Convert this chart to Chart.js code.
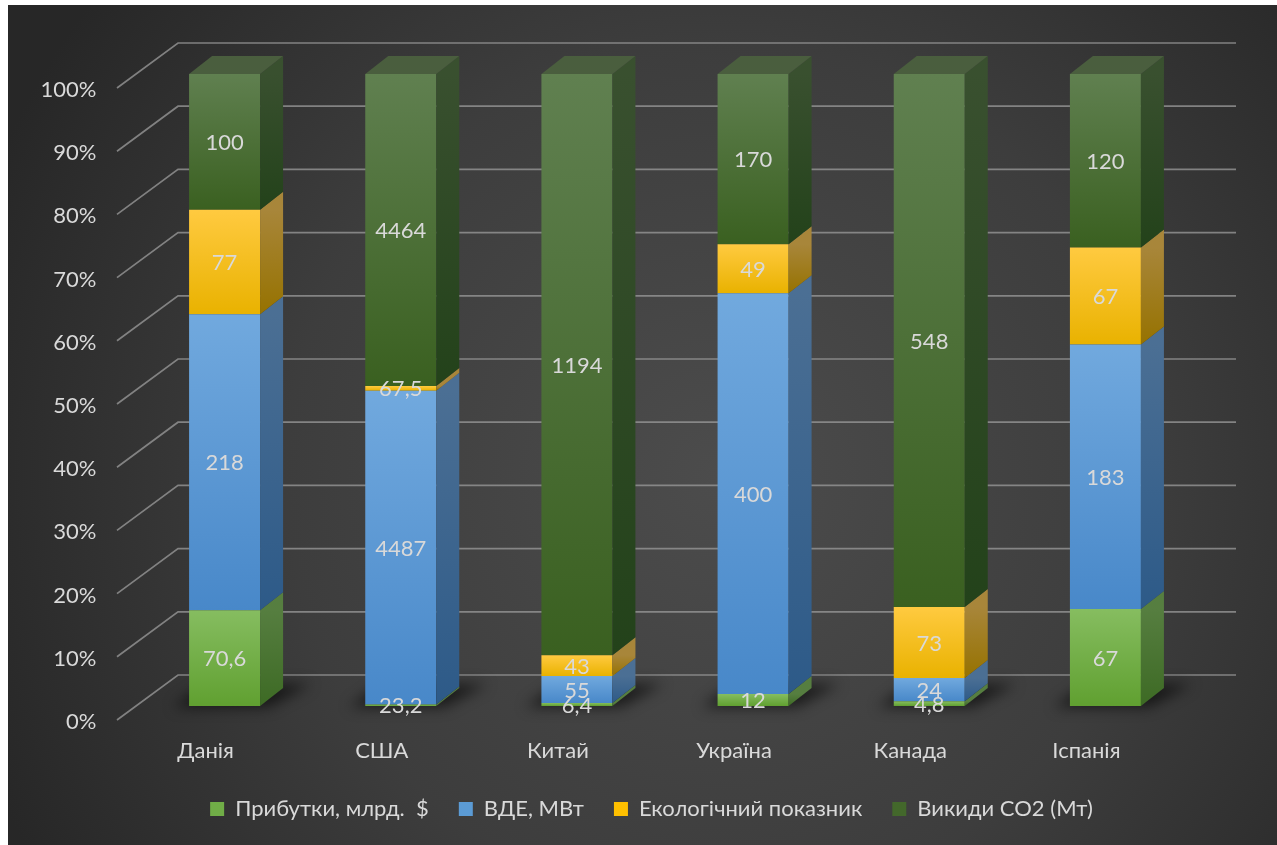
<!DOCTYPE html>
<html>
<head>
<meta charset="utf-8">
<script src="https://cdn.jsdelivr.net/npm/chart.js@4.4.1/dist/chart.umd.min.js"></script>
<style>
  html, body { margin: 0; padding: 0; background: #ffffff; }
  #wrap { position: absolute; left: 8px; top: 5px; width: 1269px; height: 840px; }
</style>
</head>
<body>
<div id="wrap"><canvas id="chart"></canvas></div>
<script>
// ---- data ----
const countries = ['Данія', 'США', 'Китай', 'Україна', 'Канада', 'Іспанія'];
const profit = [70.6, 23.2, 6.4, 12, 4.8, 67];      // Прибутки, млрд. $
const renewables = [218, 4487, 55, 400, 24, 183];    // ВДЕ, МВт
const ecoIndex = [77, 67.5, 43, 49, 73, 67];         // Екологічний показник
const emissions = [100, 4464, 1194, 170, 548, 120];  // Викиди СО2 (Мт)
const seriesNames = ['Прибутки, млрд.  $', 'ВДЕ, МВт', 'Екологічний показник', 'Викиди СО2 (Мт)'];
const yTickValues = [0, 10, 20, 30, 40, 50, 60, 70, 80, 90, 100];

const rawSeries = [profit, renewables, ecoIndex, emissions];
const totals = countries.map((_, j) => rawSeries.reduce((s, arr) => s + arr[j], 0));
// 100% stacking: each segment is its share of the country's total
const shares = rawSeries.map(arr => arr.map((v, j) => v / totals[j] * 100));

// ---- styling ----
const FONT = 'Lato, "Noto Sans", sans-serif';
const TEXT = '#d9d9d9';
const DEPTH_X = 23, DEPTH_Y = -18;   // oblique offset of the bar's side/top faces
const palette = [
  { top: '#86bd60', bottom: '#60a030', sideTop: '#567e40', sideBottom: '#3d6a24', solid: '#70ad47' },
  { top: '#71a9de', bottom: '#4888c9', sideTop: '#4b6f94', sideBottom: '#2d5a88', solid: '#5b9bd5' },
  { top: '#ffca40', bottom: '#e9b200', sideTop: '#a8863a', sideBottom: '#967200', solid: '#ffc000' },
  { top: '#608050', bottom: '#3a6020', sideTop: '#39502f', sideBottom: '#23421a', solid: '#43682b' }
];

function segmentPixels(chart, di, j) {
  const ys = chart.scales.y;
  let lo = 0;
  for (let k = 0; k < di; k++) lo += shares[k][j];
  const hi = lo + shares[di][j];
  return { yTop: ys.getPixelForValue(hi), yBot: ys.getPixelForValue(lo) };
}

function frontFill(context, di) {
  const chart = context.chart;
  const p = palette[di];
  if (!chart.chartArea || context.dataIndex === undefined || !chart.scales.y) return p.solid;
  const { yTop, yBot } = segmentPixels(chart, di, context.dataIndex);
  const g = chart.ctx.createLinearGradient(0, yTop, 0, Math.max(yBot, yTop + 1));
  g.addColorStop(0, p.top);
  g.addColorStop(1, p.bottom);
  return g;
}

const fmt = v => String(v).replace('.', ',');

// ---- plugins ----
const backdrop = {
  id: 'backdrop',
  beforeDraw(chart) {
    const { ctx, width, height } = chart;
    ctx.save();
    const g = ctx.createRadialGradient(width * 0.56, height * 0.56, 0, width * 0.56, height * 0.56, width * 0.62);
    g.addColorStop(0, '#4c4c4c');
    g.addColorStop(0.55, '#3d3d3d');
    g.addColorStop(1, '#272727');
    ctx.fillStyle = g;
    ctx.fillRect(0, 0, width, height);
    ctx.restore();
  }
};

const walls = {
  id: 'walls',
  beforeDatasetsDraw(chart) {
    const { ctx, chartArea: a, scales: { y } } = chart;
    ctx.save();
    ctx.strokeStyle = 'rgba(150,150,150,0.8)';
    ctx.lineWidth = 1.7;
    y.ticks.forEach(t => {
      const py = y.getPixelForValue(t.value);
      ctx.beginPath();
      ctx.moveTo(a.left - 19.5, py + 14);
      ctx.lineTo(a.left + 41.5, py - 31);
      ctx.lineTo(a.right + 42.5, py - 31);
      ctx.stroke();
    });
    // floor shadows under each column
    const meta = chart.getDatasetMeta(0);
    meta.data.forEach(el => {
      const { x, base, width } = el.getProps(['x', 'base', 'width'], true);
      const L = x - width / 2, R = x + width / 2;
      ctx.save();
      ctx.filter = 'blur(7px)';
      ctx.fillStyle = 'rgba(0,0,0,0.6)';
      ctx.beginPath();
      ctx.moveTo(L - 16, base + 1);
      ctx.lineTo(R + 8, base + 1);
      ctx.lineTo(R + DEPTH_X + 28, base + DEPTH_Y - 4);
      ctx.lineTo(L + DEPTH_X - 6, base + DEPTH_Y - 4);
      ctx.closePath();
      ctx.fill();
      ctx.restore();
    });
    ctx.restore();
  }
};

const columns3d = {
  id: 'columns3d',
  afterDatasetsDraw(chart) {
    const ctx = chart.ctx;
    const n = chart.data.datasets.length;
    ctx.save();
    for (let di = 0; di < n; di++) {
      const p = palette[di];
      chart.getDatasetMeta(di).data.forEach((el, j) => {
        const { x, y, base, width } = el.getProps(['x', 'y', 'base', 'width'], true);
        const R = x + width / 2, L = x - width / 2;
        const top = Math.min(y, base), bot = Math.max(y, base);
        if (bot - top < 0.01) return;
        // side face
        const gs = ctx.createLinearGradient(0, top, 0, bot);
        gs.addColorStop(0, p.sideTop);
        gs.addColorStop(1, p.sideBottom);
        ctx.fillStyle = gs;
        ctx.beginPath();
        ctx.moveTo(R, bot);
        ctx.lineTo(R, top);
        ctx.lineTo(R + DEPTH_X, top + DEPTH_Y);
        ctx.lineTo(R + DEPTH_X, bot + DEPTH_Y);
        ctx.closePath();
        ctx.fill();
        // top face of the uppermost segment
        if (di === n - 1) {
          ctx.fillStyle = '#4a5e3e';
          ctx.beginPath();
          ctx.moveTo(L, top);
          ctx.lineTo(R, top);
          ctx.lineTo(R + DEPTH_X, top + DEPTH_Y);
          ctx.lineTo(L + DEPTH_X, top + DEPTH_Y);
          ctx.closePath();
          ctx.fill();
        }
      });
    }
    // value labels
    ctx.fillStyle = TEXT;
    ctx.font = '22px ' + FONT;
    ctx.textAlign = 'center';
    ctx.textBaseline = 'middle';
    for (let di = 0; di < n; di++) {
      chart.getDatasetMeta(di).data.forEach((el, j) => {
        const { x, y, base } = el.getProps(['x', 'y', 'base'], true);
        ctx.fillText(fmt(rawSeries[di][j]), x, (y + base) / 2 + 1);
      });
    }
    ctx.restore();
  }
};

new Chart(document.getElementById('chart'), {
  type: 'bar',
  data: {
    labels: countries,
    datasets: shares.map((arr, di) => ({
      label: seriesNames[di],
      data: arr,
      backgroundColor: ctx => frontFill(ctx, di),
      borderWidth: 0,
      barPercentage: 0.403,
      categoryPercentage: 1
    }))
  },
  options: {
    responsive: true,
    maintainAspectRatio: false,
    animation: false,
    layout: { padding: { left: 18, right: 0, top: 69, bottom: 15 } },
    plugins: {
      tooltip: { enabled: false },
      legend: {
        position: 'bottom',
        labels: {
          color: TEXT,
          font: { family: FONT, size: 22 },
          boxWidth: 14,
          boxHeight: 14,
          padding: 30,
          generateLabels: chart => chart.data.datasets.map((ds, i) => ({
            text: ds.label,
            fillStyle: palette[i].solid,
            strokeStyle: palette[i].solid,
            lineWidth: 0,
            fontColor: TEXT,
            hidden: false,
            datasetIndex: i
          }))
        }
      }
    },
    scales: {
      x: {
        stacked: true,
        grid: { display: false, drawTicks: false },
        border: { display: false },
        ticks: {
          color: TEXT,
          font: { family: FONT, size: 22 },
          padding: 32,
          labelOffset: -19,
          maxRotation: 0,
          autoSkip: false
        },
        afterFit: s => { s.height = 62; }
      },
      y: {
        stacked: true,
        min: 0,
        max: 100,
        afterBuildTicks: s => { s.ticks = yTickValues.map(v => ({ value: v })); },
        grid: { display: false, drawTicks: false },
        border: { display: false },
        ticks: {
          color: TEXT,
          font: { family: FONT, size: 22 },
          padding: 40,
          labelOffset: 16,
          callback: v => v + '%'
        },
        afterFit: s => { s.width = 110.5; }
      },
      // empty right-hand gutter so the wall depth fits beside the plot
      gutter: {
        type: 'linear',
        position: 'right',
        display: true,
        grid: { display: false, drawTicks: false },
        border: { display: false },
        ticks: { display: false },
        afterFit: s => { s.width = 83.5; }
      }
    }
  },
  plugins: [backdrop, walls, columns3d]
});
</script>
</body>
</html>
